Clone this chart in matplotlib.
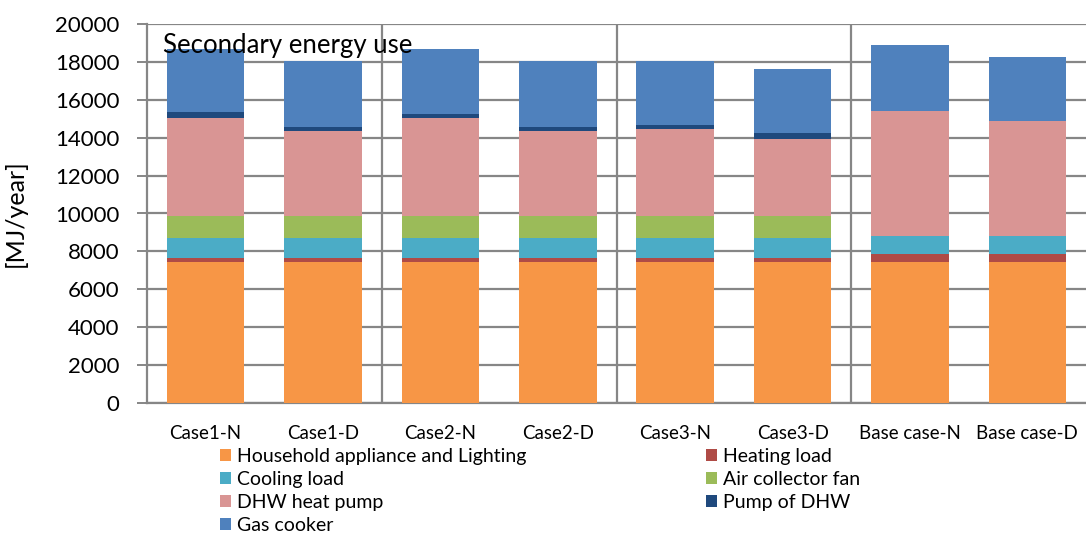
import matplotlib
matplotlib.use("Agg")
import matplotlib.pyplot as plt
import numpy as np

plt.rcParams['font.family'] = ['Lato', 'DejaVu Sans']

# Data (MJ/year)
cases = ['Case1-N', 'Case1-D', 'Case2-N', 'Case2-D', 'Case3-N', 'Case3-D',
         'Base case-N', 'Base case-D']
household = [7450, 7450, 7450, 7450, 7450, 7450, 7450, 7450]
heating = [210, 210, 210, 210, 210, 210, 420, 420]
cooling = [1060, 1060, 1060, 1060, 1060, 1060, 935, 935]
fan = [1150, 1150, 1150, 1150, 1150, 1150, 0, 0]
dhw = [5150, 4500, 5150, 4500, 4610, 4080, 6610, 6090]
pump = [320, 210, 210, 210, 210, 320, 0, 0]
gas = [3330, 3460, 3450, 3460, 3360, 3360, 3470, 3360]

series = [
    ('Household appliance and Lighting', household, '#F79646'),
    ('Heating load', heating, '#AF4B46'),
    ('Cooling load', cooling, '#4BACC6'),
    ('Air collector fan', fan, '#9BBB59'),
    ('DHW heat pump', dhw, '#D99594'),
    ('Pump of DHW', pump, '#1F497D'),
    ('Gas cooker', gas, '#4F81BD'),
]

fig = plt.figure(figsize=(10.86, 5.35), dpi=100)
ax = fig.add_axes([147 / 1086, 1 - 403 / 535, 939 / 1086, 379 / 535])

x = np.arange(len(cases))
bottom = np.zeros(len(cases))
handles = {}
for name, vals, col in series:
    b = ax.bar(x, vals, 0.66, bottom=bottom, color=col, edgecolor='none', zorder=3)
    handles[name] = b
    bottom += np.array(vals)

# grid and separators
ax.set_ylim(0, 20000)
ax.set_xlim(-0.5, 7.5)
ax.set_yticks(np.arange(0, 20001, 2000))
ax.grid(axis='y', color='#868686', linewidth=1.6, zorder=0)
for sep in [1.5, 3.5, 5.5]:
    ax.axvline(sep, color='#868686', linewidth=1.6, zorder=1)

for s in ['top', 'right']:
    ax.spines[s].set_visible(False)
ax.spines['left'].set_color('#868686')
ax.spines['left'].set_linewidth(1.6)
ax.spines['bottom'].set_color('#868686')
ax.spines['bottom'].set_linewidth(1.6)

ax.tick_params(axis='y', length=7, width=1.4, color='#868686', pad=13, labelsize=16)
ax.tick_params(axis='x', length=0, pad=16, labelsize=13.5)
ax.set_xticks(x)
ax.set_xticklabels(cases)

ax.set_ylabel('[MJ/year]', fontsize=18)
ax.yaxis.set_label_coords(-0.128, 0.5)

fig.text(163 / 1086, 1 - 45 / 535, 'Secondary energy use', fontsize=18.5,
         va='center', ha='left', zorder=5)

# legend in two blocks
col1 = ['Household appliance and Lighting', 'Cooling load', 'DHW heat pump', 'Gas cooker']
col2 = ['Heating load', 'Air collector fan', 'Pump of DHW']
kw = dict(frameon=False, fontsize=14, handlelength=0.55, handleheight=0.55,
          handletextpad=0.3, labelspacing=0.31, borderaxespad=0, borderpad=0,
          loc='upper left')
fig.legend([handles[n] for n in col1], col1,
           bbox_to_anchor=(220 / 1086, 1 - 448 / 535), **kw)
fig.legend([handles[n] for n in col2], col2,
           bbox_to_anchor=(706 / 1086, 1 - 448 / 535), **kw)

fig.savefig('out.png', dpi=100)
